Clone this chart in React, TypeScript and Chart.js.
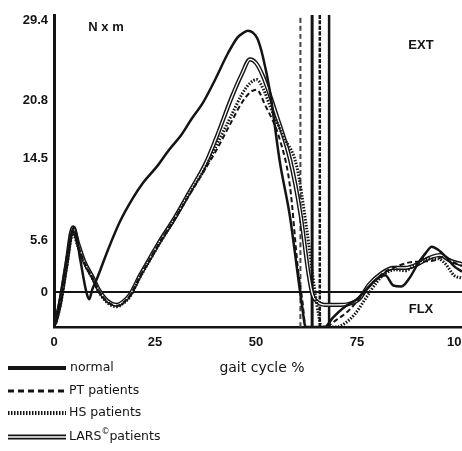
import React, { useEffect, useRef } from "react";
import { Chart, registerables } from "chart.js";

Chart.register(...registerables);

// Axis extents and tick marks (knee moment in N x m over gait cycle %)
const X_MIN = 0;
const X_MAX = 101;
const Y_MIN = -3.8;
const Y_MAX = 30;
const X_TICKS = [0, 25, 50, 75, 100];
const Y_TICKS = [0, 5.6, 14.5, 20.8, 29.4];

// [gait cycle %, moment N x m]
const NORMAL: [number, number][] = [
  [0.5, -3.2], [2, 0.5], [3.5, 4.5], [5, 7.0], [6.5, 3.5], [8, 0.0], [8.7, -0.8],
  [9.5, 0.3], [10.6, 1.4], [12, 3.0], [13.4, 4.6], [16.3, 7.6], [19.3, 10.0],
  [22, 11.8], [25.5, 13.6], [28.5, 15.4], [31.5, 17.0], [34, 18.7], [37, 20.6],
  [40, 23.1], [43, 25.8], [45.5, 27.6], [47, 28.1], [48, 28.3], [49.2, 28.1],
  [50.4, 27.4], [51.7, 25.5], [53.5, 21.6], [55.9, 14.1], [58.4, 8.2],
  [60.4, 1.7], [61.4, -1.5], [62.3, -3.8], [67, -3.8], [69, -2.8], [72, -1.6],
  [75, -0.8], [78, 0.6], [80.5, 1.6], [82, 1.8], [84, 0.7], [86, 0.6], [88, 1.5],
  [90, 3.0], [92, 4.2], [93.5, 4.9], [95, 4.6], [97, 3.8], [99, 2.8], [101, 2.2],
];

const PT: [number, number][] = [
  [0.3, -3.5], [1.5, -1.5], [3, 2.5], [4.7, 6.6], [6, 5.0], [7.5, 3.2], [9.7, 1.4],
  [11, 0.2], [12.6, -0.8], [14, -1.3], [15.6, -1.5], [17, -1.2], [18.8, -0.4],
  [21.3, 1.7], [23.8, 3.6], [26.2, 5.4], [30, 8.0], [33.5, 10.5], [37.4, 13.3],
  [40, 15.2], [44, 18.5], [46.5, 20.5], [48.5, 21.6], [50.2, 21.9], [52.2, 20.3],
  [55.9, 16.5], [58.4, 11.5], [60.4, 2.5], [61.5, -1.0], [62.3, -3.8], [67, -3.8],
  [70, -3.0], [73, -2.0], [76, -0.5], [79, 1.0], [82, 2.2], [85, 2.8], [88, 3.2],
  [91, 3.3], [94, 3.4], [96.5, 3.8], [99, 3.2], [101, 2.8],
];

const HS: [number, number][] = [
  [0.3, -3.5], [1.5, -1.6], [3, 2.3], [4.7, 6.3], [6, 4.8], [7.5, 3.1], [9.7, 1.3],
  [11, 0.1], [12.6, -0.9], [14, -1.4], [15.6, -1.6], [17, -1.3], [18.8, -0.5],
  [21.3, 1.6], [23.8, 3.5], [26.2, 5.3], [30, 8.0], [33.5, 10.6], [37.4, 13.4],
  [40, 15.7], [44, 19.2], [46.5, 21.4], [48.5, 22.6], [50.2, 23.0], [51.8, 22.0],
  [53.5, 20.1], [56.7, 16.9], [60.1, 13.6], [62.5, 7.0], [64.6, 0.0], [65.5, -2.5],
  [66.2, -3.8], [70, -3.8], [72, -3.4], [74.5, -2.4], [77, -0.8], [80, 1.1],
  [82, 2.0], [84.5, 2.4], [87, 2.3], [89, 2.8], [92, 3.6], [95, 3.6], [97, 3.0],
  [99, 1.8], [101, 1.5],
];

const LARS: [number, number][] = [
  [0.3, -3.4], [1.5, -1.2], [3, 2.8], [4.7, 7.0], [6, 5.2], [7.5, 3.3], [9.7, 1.5],
  [11, 0.3], [12.6, -0.7], [14, -1.2], [15.6, -1.4], [17, -1.1], [18.8, -0.3],
  [21.3, 1.8], [23.8, 3.7], [26.2, 5.5], [30, 8.1], [33.5, 10.8], [37.4, 13.8],
  [40, 16.5], [44, 21.1], [46.5, 23.6], [48.5, 25.2], [50, 24.8], [51.7, 23.4],
  [55.2, 19.0], [58.4, 14.4], [61, 8.5], [63, 2.0], [64, -0.3], [65, -1.0],
  [67, -1.4], [70, -1.4], [73, -1.3], [75.5, -0.8], [78, 0.8], [81, 2.0],
  [84, 2.6], [87, 2.6], [90, 3.0], [93, 3.7], [95.5, 4.0], [98, 3.4], [101, 3.0],
];

// Toe-off markers, % of gait cycle
const TOE_OFF_PT = 61;
const TOE_OFF_NORMAL = 63.9;
const TOE_OFF_HS = 65.8;
const TOE_OFF_LARS = 68.1;

const LEGEND_LABELS = ["normal", "PT patients", "HS patients", "LARS", "©", "patients"];
const X_TITLE = "gait cycle %";
const UNIT_LABEL = "N x m";
const EXT_LABEL = "EXT";
const FLX_LABEL = "FLX";

const INK = "#141414";
const TICK_FONT = "bold 13px 'Liberation Sans', Arial, sans-serif";
const TEXT_FONT = "12.5px 'DejaVu Sans', Verdana, sans-serif";
const TITLE_FONT = "14px 'DejaVu Sans', Verdana, sans-serif";

const toPoints = (arr: [number, number][]) => arr.map(([x, y]) => ({ x, y }));
const vertical = (x: number) => [
  { x, y: Y_MIN },
  { x, y: Y_MAX },
];

const overlayPlugin = {
  id: "overlay",
  beforeDatasetsDraw(chart: any) {
    const { ctx, chartArea, scales } = chart;
    const y0 = scales.y.getPixelForValue(0);
    ctx.save();
    ctx.strokeStyle = INK;
    ctx.lineWidth = 2;
    ctx.beginPath();
    ctx.moveTo(chartArea.left, y0);
    ctx.lineTo(chartArea.right, y0);
    ctx.stroke();
    ctx.restore();
  },
  afterDraw(chart: any) {
    const { ctx } = chart;
    ctx.save();
    ctx.fillStyle = INK;
    ctx.textBaseline = "middle";
    ctx.textAlign = "center";
    ctx.font = TICK_FONT;
    ctx.fillText(UNIT_LABEL, 106, 27);
    ctx.fillText(EXT_LABEL, 421, 45);
    ctx.fillText(FLX_LABEL, 421, 309);

    ctx.font = TITLE_FONT;
    ctx.fillText(X_TITLE, 262, 368);

    // legend samples
    const x0 = 8;
    const x1 = 66;
    const rows = [368, 391, 413, 437];
    ctx.strokeStyle = INK;
    ctx.lineCap = "butt";

    ctx.lineWidth = 4;
    ctx.setLineDash([]);
    ctx.beginPath();
    ctx.moveTo(x0, rows[0]);
    ctx.lineTo(x1, rows[0]);
    ctx.stroke();

    ctx.lineWidth = 3;
    ctx.setLineDash([6, 4]);
    ctx.beginPath();
    ctx.moveTo(x0, rows[1]);
    ctx.lineTo(x1, rows[1]);
    ctx.stroke();

    ctx.lineWidth = 4;
    ctx.setLineDash([1.5, 1.5]);
    ctx.beginPath();
    ctx.moveTo(x0, rows[2]);
    ctx.lineTo(x1, rows[2]);
    ctx.stroke();

    ctx.setLineDash([]);
    ctx.lineWidth = 5;
    ctx.beginPath();
    ctx.moveTo(x0, rows[3]);
    ctx.lineTo(x1, rows[3]);
    ctx.stroke();
    ctx.strokeStyle = "#fff";
    ctx.lineWidth = 1.5;
    ctx.beginPath();
    ctx.moveTo(x0, rows[3]);
    ctx.lineTo(x1, rows[3]);
    ctx.stroke();

    ctx.textAlign = "left";
    ctx.fillStyle = INK;
    ctx.font = TEXT_FONT;
    ctx.fillText(LEGEND_LABELS[0], 70, rows[0]);
    ctx.fillText(LEGEND_LABELS[1], 69, rows[1]);
    ctx.fillText(LEGEND_LABELS[2], 69, rows[2]);
    let tx = 69;
    ctx.fillText(LEGEND_LABELS[3], tx, rows[3]);
    tx += ctx.measureText(LEGEND_LABELS[3]).width;
    ctx.font = "8px 'DejaVu Sans', Verdana, sans-serif";
    ctx.fillText(LEGEND_LABELS[4], tx, rows[3] - 5);
    tx += ctx.measureText(LEGEND_LABELS[4]).width;
    ctx.font = TEXT_FONT;
    ctx.fillText(LEGEND_LABELS[5], tx, rows[3]);
    ctx.restore();
  },
};

export default function App() {
  const canvasRef = useRef<HTMLCanvasElement | null>(null);

  useEffect(() => {
    const canvas = canvasRef.current;
    if (!canvas) return;

    const base = {
      borderColor: INK,
      pointRadius: 0,
      fill: false,
      cubicInterpolationMode: "monotone" as const,
    };

    const chart = new Chart(canvas, {
      type: "line",
      data: {
        datasets: [
          { ...base, label: "normal", data: toPoints(NORMAL), borderWidth: 2.5, order: 1 },
          { ...base, label: "PT patients", data: toPoints(PT), borderWidth: 2, borderDash: [5, 3], order: 2 },
          { ...base, label: "HS patients", data: toPoints(HS), borderWidth: 3, borderDash: [1.5, 1.5], order: 3 },
          { ...base, label: "LARS patients", data: toPoints(LARS), borderColor: "#fff", borderWidth: 1.3, order: 4 },
          { ...base, label: "LARS patients outline", data: toPoints(LARS), borderWidth: 4.2, order: 5 },
          { ...base, label: "toe-off PT", data: vertical(TOE_OFF_PT), borderWidth: 2, borderDash: [5, 3], borderColor: "#444", order: 6 },
          { ...base, label: "toe-off normal", data: vertical(TOE_OFF_NORMAL), borderWidth: 3, order: 6 },
          { ...base, label: "toe-off HS", data: vertical(TOE_OFF_HS), borderWidth: 2.5, borderDash: [4, 1.5], order: 6 },
          { ...base, label: "toe-off LARS", data: vertical(TOE_OFF_LARS), borderWidth: 2.5, order: 6 },
        ],
      },
      options: {
        animation: false,
        responsive: false,
        devicePixelRatio: 1,
        layout: { padding: { left: 0, top: 15, right: 18, bottom: 0 } },
        plugins: {
          legend: { display: false },
          tooltip: { enabled: false },
        },
        scales: {
          x: {
            type: "linear",
            min: X_MIN,
            max: X_MAX,
            grid: { display: false, drawTicks: false },
            border: { display: true, color: INK, width: 2.5 },
            afterBuildTicks: (scale: any) => {
              scale.ticks = X_TICKS.map((value) => ({ value }));
            },
            afterFit: (scale: any) => {
              scale.height = 124;
            },
            ticks: {
              color: INK,
              padding: 8,
              maxRotation: 0,
              font: { family: "'Liberation Sans', Arial, sans-serif", size: 13, weight: "bold" },
              callback: (v: any) => String(v),
            },
          },
          y: {
            type: "linear",
            min: Y_MIN,
            max: Y_MAX,
            grid: { display: false, drawTicks: false },
            border: { display: true, color: INK, width: 3 },
            afterBuildTicks: (scale: any) => {
              scale.ticks = Y_TICKS.map((value) => ({ value }));
            },
            afterFit: (scale: any) => {
              scale.width = 54;
            },
            ticks: {
              color: INK,
              padding: 6,
              font: { family: "'Liberation Sans', Arial, sans-serif", size: 13, weight: "bold" },
              callback: (v: any) => String(v),
            },
          },
        },
      },
      plugins: [overlayPlugin],
    });

    return () => chart.destroy();
  }, []);

  return (
    <div
      style={{
        position: "absolute",
        left: 0,
        top: 0,
        width: 462,
        height: 451,
        overflow: "hidden",
        background: "#fff",
      }}
    >
      <canvas ref={canvasRef} width={480} height={451} style={{ display: "block" }} />
    </div>
  );
}
